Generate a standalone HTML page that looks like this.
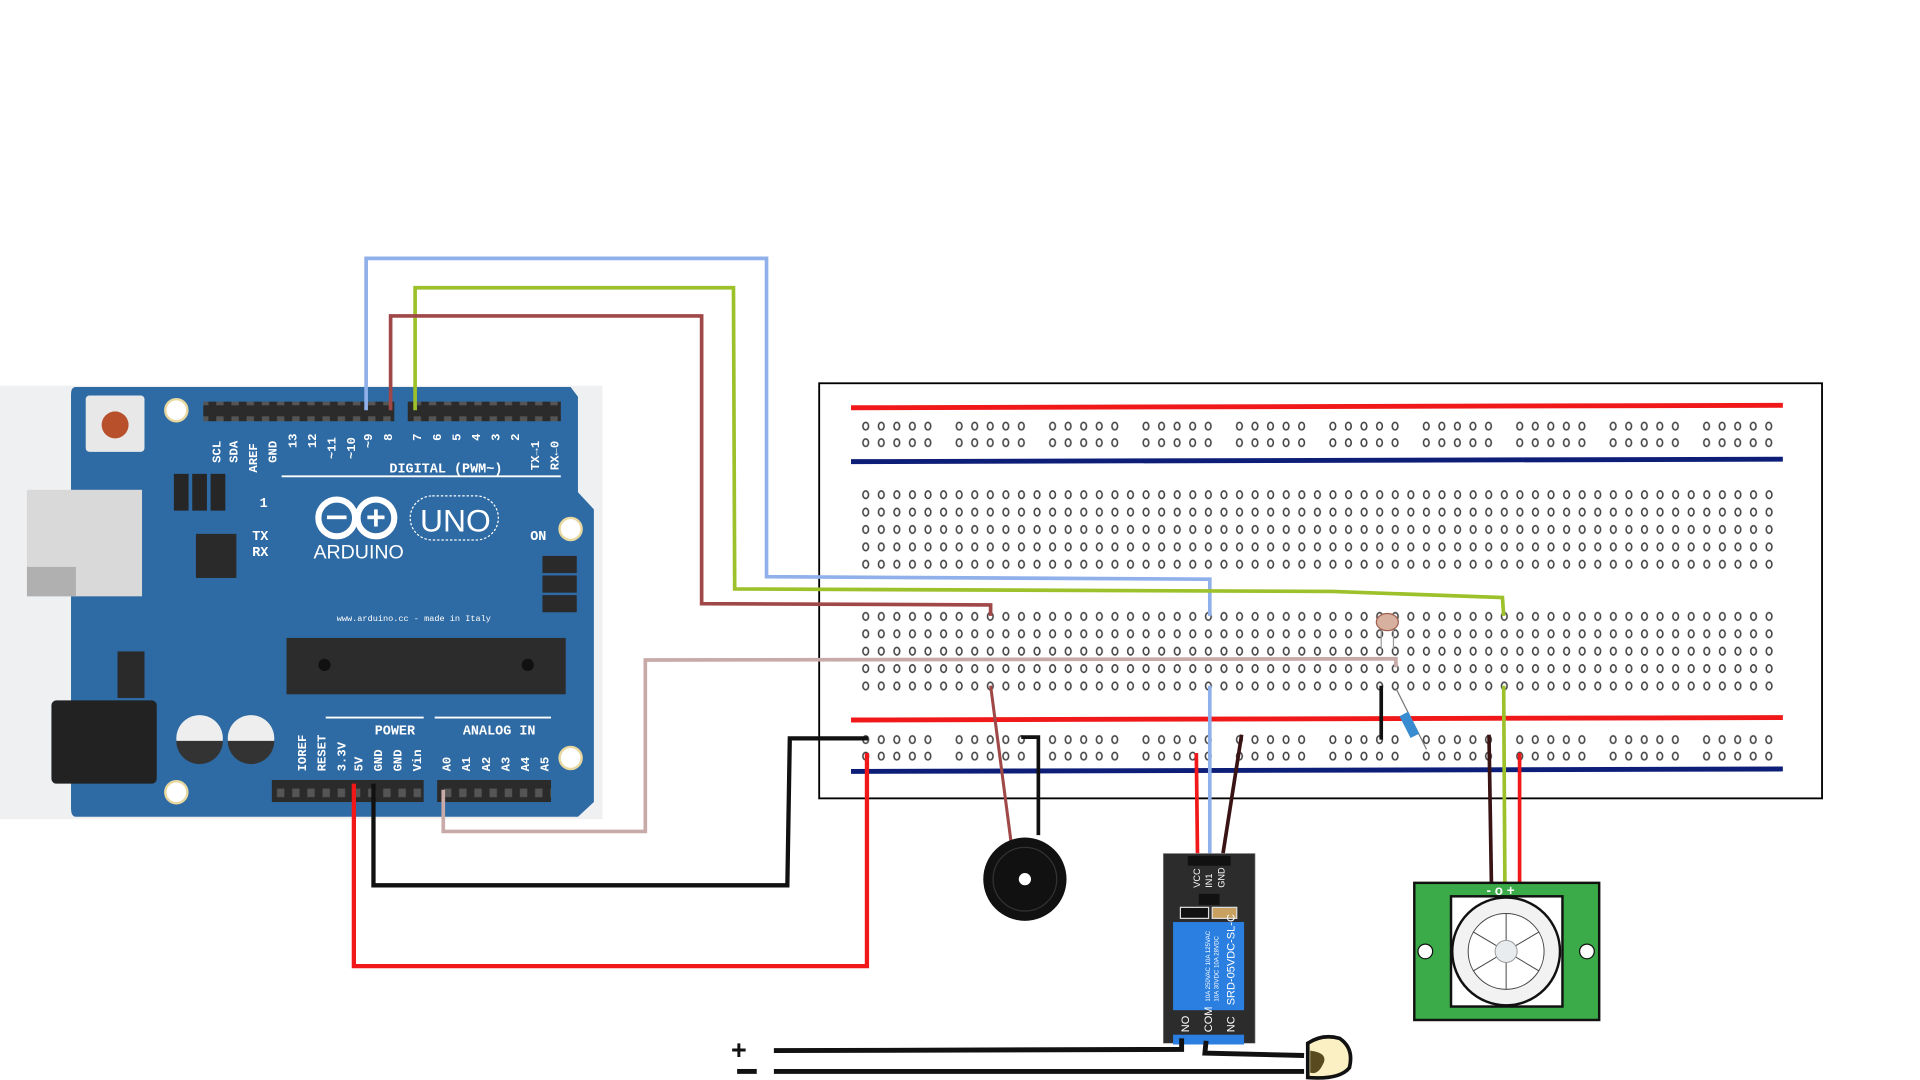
<!DOCTYPE html>
<html><head><meta charset="utf-8"><style>html,body{margin:0;padding:0;background:#fff;overflow:hidden}svg{display:block}</style></head>
<body>
<svg width="1920" height="1080" viewBox="0 0 1568 882" preserveAspectRatio="none" xmlns="http://www.w3.org/2000/svg" font-family="Liberation Sans, sans-serif">
<defs>
<pattern id="hole" x="701" y="397" width="12.72" height="14.2" patternUnits="userSpaceOnUse">
<ellipse cx="6" cy="7" rx="2.3" ry="3.1" fill="none" stroke="#444" stroke-width="1.3"/>
</pattern>
<pattern id="rail" x="701" y="341" width="76.3" height="13.5" patternUnits="userSpaceOnUse">
<g fill="none" stroke="#444" stroke-width="1.3">
<ellipse cx="6" cy="7" rx="2.3" ry="3.1"/><ellipse cx="18.7" cy="7" rx="2.3" ry="3.1"/><ellipse cx="31.4" cy="7" rx="2.3" ry="3.1"/><ellipse cx="44.1" cy="7" rx="2.3" ry="3.1"/><ellipse cx="56.8" cy="7" rx="2.3" ry="3.1"/>
</g></pattern>
<pattern id="rail2" x="701" y="597" width="76.3" height="13.5" patternUnits="userSpaceOnUse">
<g fill="none" stroke="#444" stroke-width="1.3">
<ellipse cx="6" cy="7" rx="2.3" ry="3.1"/><ellipse cx="18.7" cy="7" rx="2.3" ry="3.1"/><ellipse cx="31.4" cy="7" rx="2.3" ry="3.1"/><ellipse cx="44.1" cy="7" rx="2.3" ry="3.1"/><ellipse cx="56.8" cy="7" rx="2.3" ry="3.1"/>
</g></pattern>
<pattern id="hdr" width="12.4" height="16" patternUnits="userSpaceOnUse">
<rect width="12.4" height="16" fill="#2b2b2b"/><rect x="3" y="4" width="6" height="7" fill="#555"/>
</pattern>
</defs>

<!-- Arduino -->
<rect x="0" y="315" width="492" height="354" fill="#eef0f2"/>
<path d="M62 316 H466 L472 324 V402 L485 416 V655 L472 667 H62 Q58 667 58 660 V322 Q58 316 62 316Z" fill="#2e6aa3"/>
<rect x="70" y="323" width="48" height="46" rx="3" fill="#e8e8e8"/>
<circle cx="94" cy="347" r="11" fill="#b8502c"/>
<circle cx="144" cy="335" r="9" fill="#fff" stroke="#e8d8a0" stroke-width="2"/>
<circle cx="466" cy="432" r="9" fill="#fff" stroke="#e8d8a0" stroke-width="2"/>
<circle cx="466" cy="619" r="9" fill="#fff" stroke="#e8d8a0" stroke-width="2"/>
<circle cx="144" cy="647" r="9" fill="#fff" stroke="#e8d8a0" stroke-width="2"/>
<rect x="166" y="328" width="156" height="16" fill="url(#hdr)"/>
<rect x="333" y="328" width="125" height="16" fill="url(#hdr)"/>
<rect x="222" y="637" width="124" height="18" fill="url(#hdr)"/>
<rect x="357" y="637" width="93" height="18" fill="url(#hdr)"/>
<g fill="#262626"><rect x="142" y="387" width="12" height="30"/><rect x="157" y="387" width="12" height="30"/><rect x="172" y="387" width="12" height="30"/></g>
<rect x="22" y="400" width="94" height="87" fill="#d9d9d9"/>
<rect x="22" y="463" width="40" height="24" fill="#b0b0b0"/>
<rect x="160" y="436" width="33" height="36" fill="#2a2a2a"/>
<rect x="42" y="572" width="86" height="68" rx="4" fill="#222"/>
<rect x="96" y="532" width="22" height="38" fill="#2a2a2a"/>
<circle cx="163" cy="603" r="19" fill="#eee"/><path d="M144 605 A19 19 0 0 0 182 605Z" fill="#333"/>
<circle cx="205" cy="603" r="19" fill="#eee"/><path d="M186 605 A19 19 0 0 0 224 605Z" fill="#333"/>
<rect x="234" y="521" width="228" height="46" fill="#2c2c2c"/>
<circle cx="265" cy="543" r="5" fill="#111"/><circle cx="431" cy="543" r="5" fill="#111"/>
<rect x="443" y="454" width="28" height="14" fill="#2a2a2a"/><rect x="443" y="470" width="28" height="14" fill="#2a2a2a"/><rect x="443" y="486" width="28" height="14" fill="#2a2a2a"/>
<line x1="230" y1="389" x2="458" y2="389" stroke="#fff" stroke-width="1.5"/>
<line x1="266" y1="586" x2="346" y2="586" stroke="#fff" stroke-width="1.5"/>
<line x1="355" y1="586" x2="450" y2="586" stroke="#fff" stroke-width="1.5"/>
<g fill="#fff" font-family="Liberation Mono, monospace" font-weight="bold" font-size="11">
<text x="318" y="386">DIGITAL (PWM~)</text>
<text x="306" y="600">POWER</text>
<text x="378" y="600">ANALOG IN</text>
<text x="275" y="507" font-size="7" font-weight="normal">www.arduino.cc - made in Italy</text>
<text x="212" y="414">1</text><text x="206" y="441">TX</text><text x="206" y="454">RX</text><text x="433" y="441">ON</text>
</g>
<g fill="#fff" font-family="Liberation Mono, monospace" font-weight="bold" font-size="10">
<g transform="translate(180,378) rotate(-90)"><text>SCL</text></g>
<g transform="translate(194,378) rotate(-90)"><text>SDA</text></g>
<g transform="translate(210,386) rotate(-90)"><text>AREF</text></g>
<g transform="translate(226,378) rotate(-90)"><text>GND</text></g>
<g transform="translate(242,366) rotate(-90)"><text>13</text></g>
<g transform="translate(258,366) rotate(-90)"><text>12</text></g>
<g transform="translate(274,375) rotate(-90)"><text>~11</text></g>
<g transform="translate(290,375) rotate(-90)"><text>~10</text></g>
<g transform="translate(304,366) rotate(-90)"><text>~9</text></g>
<g transform="translate(320,360) rotate(-90)"><text>8</text></g>
<g transform="translate(344,360) rotate(-90)"><text>7</text></g>
<g transform="translate(360,360) rotate(-90)"><text>6</text></g>
<g transform="translate(376,360) rotate(-90)"><text>5</text></g>
<g transform="translate(392,360) rotate(-90)"><text>4</text></g>
<g transform="translate(408,360) rotate(-90)"><text>3</text></g>
<g transform="translate(424,360) rotate(-90)"><text>2</text></g>
<g transform="translate(440,384) rotate(-90)"><text>TX→1</text></g>
<g transform="translate(456,384) rotate(-90)"><text>RX←0</text></g>
<g transform="translate(250,630) rotate(-90)"><text>IOREF</text></g>
<g transform="translate(266,630) rotate(-90)"><text>RESET</text></g>
<g transform="translate(282,630) rotate(-90)"><text>3.3V</text></g>
<g transform="translate(296,630) rotate(-90)"><text>5V</text></g>
<g transform="translate(312,630) rotate(-90)"><text>GND</text></g>
<g transform="translate(328,630) rotate(-90)"><text>GND</text></g>
<g transform="translate(344,630) rotate(-90)"><text>Vin</text></g>
<g transform="translate(368,630) rotate(-90)"><text>A0</text></g>
<g transform="translate(384,630) rotate(-90)"><text>A1</text></g>
<g transform="translate(400,630) rotate(-90)"><text>A2</text></g>
<g transform="translate(416,630) rotate(-90)"><text>A3</text></g>
<g transform="translate(432,630) rotate(-90)"><text>A4</text></g>
<g transform="translate(448,630) rotate(-90)"><text>A5</text></g>
</g>
<g fill="none" stroke="#fff" stroke-width="5">
<circle cx="275" cy="423" r="15"/><circle cx="307" cy="423" r="15"/>
</g>
<rect x="267" y="421" width="16" height="3" fill="#fff"/><rect x="300" y="421" width="14" height="3" fill="#fff"/><rect x="305.5" y="416" width="3" height="14" fill="#fff"/>
<text x="256" y="456" fill="#fff" font-size="16">ARDUINO</text>
<rect x="335" y="405" width="72" height="36" rx="18" fill="none" stroke="#fff" stroke-width="1" stroke-dasharray="2 1.5"/>
<text x="343" y="434" fill="#fff" font-size="26">UNO</text>

<!-- Breadboard -->
<rect x="669" y="313" width="819" height="339" fill="#fff" stroke="#000" stroke-width="1.5"/>
<line x1="695" y1="333" x2="1456" y2="331" stroke="#f01818" stroke-width="4"/>
<line x1="695" y1="377" x2="1456" y2="375" stroke="#0d1e78" stroke-width="4"/>
<line x1="695" y1="588" x2="1456" y2="586" stroke="#f01818" stroke-width="4"/>
<line x1="695" y1="630" x2="1456" y2="628" stroke="#0d1e78" stroke-width="4"/>
<rect x="701" y="341" width="755" height="27" fill="url(#rail)"/>
<rect x="701" y="597" width="755" height="27" fill="url(#rail2)"/>
<rect x="701" y="397" width="751" height="71" fill="url(#hole)"/>
<rect x="701" y="496" width="751" height="71" fill="url(#hole)"/>

<!-- wires -->
<g fill="none" stroke-width="3" stroke-linejoin="miter">
<polyline points="299,335 299,211 626,211 626,471 988,473 988,503" stroke="#8fb0ea"/>
<polyline points="988,560 988,702" stroke="#8fb0ea"/>
<polyline points="339,335 339,235 599,235 600,481 1088,483 1227,488 1228,503" stroke="#9dc12a"/>
<polyline points="1228,560 1229,722" stroke="#9dc12a"/>
<polyline points="319,335 319,258 573,258 573,493 809,494 809,503" stroke="#a04848"/>
<polyline points="809,560 826,690" stroke="#a04848" stroke-width="2.5"/>
<polyline points="362,645 362,679 527,679 527,539 1140,538 1140,545" stroke="#c8aaa8"/>
<polyline points="305,640 305,723 643,723 645,603 709,603" stroke="#111" stroke-width="3.5"/>
<polyline points="834,602 848,602 848,682" stroke="#111"/>
<polyline points="1014,600 998,702" stroke="#3a1414"/>
<polyline points="1128,560 1128,604" stroke="#111"/>
<polyline points="1216,600 1218,722" stroke="#3a1414"/>
<polyline points="289,640 289,789 708,789 708,615" stroke="#f01818" stroke-width="3.5"/>
<polyline points="977,615 978,702" stroke="#f01818"/>
<polyline points="1241,615 1241,722" stroke="#f01818"/>
<polyline points="1140,562 1165,612" stroke="#777" stroke-width="1"/>
</g>
<rect x="1147" y="582" width="8" height="20" fill="#3a8cd0" transform="rotate(-27 1151 592)"/>
<!-- LDR -->
<line x1="1128" y1="512" x2="1128" y2="530" stroke="#999"/><line x1="1138" y1="512" x2="1138" y2="530" stroke="#999"/>
<ellipse cx="1133" cy="508" rx="9" ry="7" fill="#d8b0a0" stroke="#a06050"/>

<!-- buzzer -->
<circle cx="837" cy="718" r="34" fill="#111"/>
<circle cx="837" cy="718" r="26" fill="none" stroke="#333" stroke-width="1"/>
<circle cx="837" cy="718" r="5" fill="#fff"/>

<!-- relay -->
<rect x="950" y="697" width="75" height="155" fill="#2c2c2c" stroke="#999" stroke-width="0.5"/>
<rect x="970" y="699" width="35" height="8" fill="#111"/>
<g fill="#fff" font-size="7.5"><g transform="translate(980,725) rotate(-90)"><text>VCC</text></g><g transform="translate(990,725) rotate(-90)"><text>IN1</text></g><g transform="translate(1000,725) rotate(-90)"><text>GND</text></g></g>
<rect x="979" y="730" width="17" height="9" fill="#111"/>
<rect x="964" y="741" width="23" height="9" fill="#111" stroke="#ddd"/>
<rect x="990" y="741" width="20" height="9" fill="#c8a060" stroke="#ddd"/>
<rect x="958" y="753" width="58" height="72" fill="#2a7fe0"/>
<g fill="#fff" font-size="9"><g transform="translate(1008,821) rotate(-90)"><text>SRD-05VDC-SL-C</text></g></g>
<g fill="#fff" font-size="5"><g transform="translate(988,818) rotate(-90)"><text>10A 250VAC 10A 125VAC</text></g><g transform="translate(995,818) rotate(-90)"><text>10A 30VDC 10A 28VDC</text></g></g>
<g fill="#fff" font-size="9"><g transform="translate(971,843) rotate(-90)"><text>NO</text></g><g transform="translate(990,843) rotate(-90)"><text>COM</text></g><g transform="translate(1008,843) rotate(-90)"><text>NC</text></g></g>
<rect x="958" y="845" width="58" height="8" fill="#2a7fe0"/>

<!-- PIR -->
<rect x="1155" y="721" width="151" height="112" fill="#3aab48" stroke="#111" stroke-width="2"/>
<rect x="1185" y="732" width="91" height="90" fill="#fff" stroke="#111" stroke-width="2"/>
<circle cx="1230" cy="777" r="44" fill="#f2f2f2" stroke="#111" stroke-width="2"/>
<circle cx="1230" cy="777" r="31" fill="#fff" stroke="#444" stroke-width="0.8"/>
<g stroke="#444" stroke-width="0.8"><line x1="1230" y1="746" x2="1230" y2="808"/><line x1="1203" y1="761" x2="1257" y2="793"/><line x1="1203" y1="793" x2="1257" y2="761"/></g>
<circle cx="1230" cy="777" r="9" fill="#e8ecee" stroke="#999" stroke-width="0.8"/>
<circle cx="1164" cy="777" r="6" fill="#fff" stroke="#111"/>
<circle cx="1296" cy="777" r="6" fill="#fff" stroke="#111"/>
<text x="1214" y="731" fill="#fff" font-size="11" font-weight="bold">- o +</text>

<!-- lamp wires -->
<g fill="none" stroke="#111" stroke-width="4">
<polyline points="632,858 965,857 965,848"/>
<polyline points="985,850 984,860 1065,862"/>
<polyline points="632,875 1065,875"/>
</g>
<path d="M1068 852 Q1080 844 1094 848 Q1106 856 1102 872 Q1094 882 1068 880Z" fill="#faf0c4" stroke="#111" stroke-width="3"/>
<path d="M1070 858 Q1086 860 1080 870 Q1076 878 1070 876Z" fill="#5a4a20"/>
<text x="597" y="865" font-size="22" font-weight="bold" fill="#111">+</text>
<rect x="602" y="873" width="16" height="4" fill="#111"/>
</svg>
</body></html>
